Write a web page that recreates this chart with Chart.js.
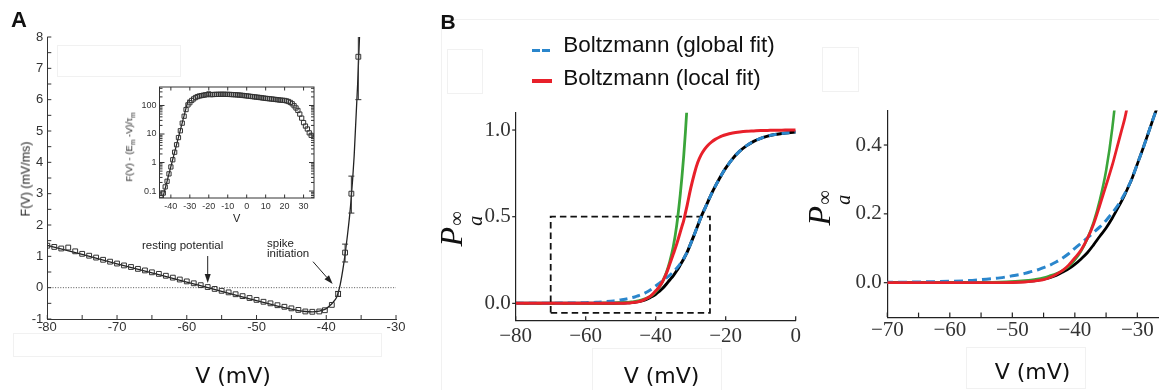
<!DOCTYPE html>
<html><head><meta charset="utf-8">
<script src="https://cdn.jsdelivr.net/npm/chart.js@4.4.1/dist/chart.umd.min.js"></script>
<style>
html,body{margin:0;padding:0;background:#fff;}
body{width:1159px;height:390px;overflow:hidden;position:relative;}
canvas{position:absolute;}
.t{position:absolute;white-space:nowrap;line-height:1;color:#111;}
.f{position:absolute;border:1px solid #f1f1f1;box-sizing:border-box;}
.s{position:absolute;}
</style></head>
<body>
<canvas id="cA"></canvas>
<canvas id="cI"></canvas>
<canvas id="cB1"></canvas>
<canvas id="cB2"></canvas>
<script>
// ================= DATA =================
// Panel A: F(V) measurements (open squares)
const aSquareV = [-80,-79,-78,-77,-76,-75,-74,-73,-72,-71,-70,-69,-68,-67,-66,-65,-64,-63,-62,-61,-60,-59,-58,-57,-56,-55,-54,-53,-52,-51,-50,-49,-48,-47,-46,-45,-44,-43,-42,-41,-40.2,-39.2,-38.3,-37.3,-36.4,-35.4];
const aSquareF = [1.34,1.30,1.25,1.28,1.16,1.08,1.02,0.96,0.89,0.83,0.77,0.71,0.66,0.60,0.55,0.49,0.44,0.38,0.32,0.26,0.20,0.14,0.08,0.02,-0.04,-0.10,-0.15,-0.21,-0.27,-0.33,-0.39,-0.45,-0.50,-0.56,-0.61,-0.66,-0.71,-0.76,-0.77,-0.76,-0.72,-0.55,-0.20,1.12,3.00,7.37];
// error bars
const aErrV  = [-38.3,-37.3,-36.4,-35.4];
const aErrLo = [-0.28,0.82,2.38,6.0];
const aErrHi = [-0.12,1.39,3.56,8.8];
// fitted curve
const aFitV = [-80,-75,-70,-65,-60,-55,-50,-46,-44,-43,-42,-41,-40.5,-40,-39.5,-39,-38.5,-38,-37.5,-37,-36.5,-36,-35.5,-35.2];
const aFitF = [1.35,1.06,0.76,0.47,0.18,-0.12,-0.41,-0.64,-0.73,-0.76,-0.77,-0.75,-0.72,-0.67,-0.58,-0.46,-0.30,0.10,0.75,1.60,2.65,4.20,6.50,8.20];
// zero reference line
const aZeroV = [-80,-30];
const aZeroF = [0,0];
// ticks
const aXTicks = [-80,-75,-70,-65,-60,-55,-50,-45,-40,-35,-30];
const aYTicks = [-1,-0.5,0,0.5,1,1.5,2,2.5,3,3.5,4,4.5,5,5.5,6,6.5,7,7.5,8];
// annotations
const aNoteText = ['resting potential','spike','initiation'];
const aNoteV = [-60.6,-48.5,-48.5];
const aNoteF = [1.233,1.297,0.978];
const aNoteAlign = ['center','left','left'];
const aArrowV1 = [-57,-41.9], aArrowF1 = [1.01,0.83];
const aArrowV2 = [-57,-39.08], aArrowF2 = [0.15,0.116];

// Inset: F(V) - (Em - V)/tau_m, log scale
const insetV = [-45,-44,-43,-42,-41,-40,-39,-38,-37,-36,-35,-34,-33,-32,-31,-30,-29,-28,-27,-26,-25,-24,-23,-22,-21,-20,-19,-18,-17,-16,-15,-14,-13,-12,-11,-10,-9,-8,-7,-6,-5,-4,-3,-2,-1,0,1,2,3,4,5,6,7,8,9,10,11,12,13,14,15,16,17,18,19,20,21,22,23,24,25,26,27,28,29,30,31,32,33,34];
const insetY = [0.06,0.085,0.14,0.22,0.4,0.7,1.25,2.3,4.2,7.5,13,24,42,72,105,125,150,170,190,205,215,222,228,235,240,255,240,242,244,245,246,247,247,247,246,245,244,242,240,238,235,232,229,225,221,217,213,209,205,201,197,194,190,186,182,178,175,172,169,166,163,160,157,154,152,150,145,138,128,115,98,82,67,50,36,25,19,15,11,9];
const insetFitV = [-44.3,-30.8];
const insetFitY = [0.057,165];
const insetXTicks = [-40,-30,-20,-10,0,10,20,30];
const insetYTicks = [0.1,1,10,100];
const insetYMinor = [0.06,0.07,0.08,0.09,0.2,0.3,0.4,0.5,0.6,0.7,0.8,0.9,2,3,4,5,6,7,8,9,20,30,40,50,60,70,80,90,200,300,400];

// Panel B: activation curves
const bV     = [-80,-75,-70,-65,-60,-57,-55,-52,-50,-48,-47,-46,-45,-44,-43,-42,-41,-40,-39,-38,-37,-36,-35,-34,-33,-32.5,-32,-31.5,-31,-30,-29,-28,-27,-26,-25,-24,-23,-22,-21,-20,-18,-16,-14,-12,-10,-8,-6,-4,-2,0];
const bBlack = [0,0,0,0,0.0001,0.0002,0.0004,0.0009,0.0017,0.0033,0.0048,0.007,0.010,0.0144,0.0207,0.030,0.040,0.053,0.069,0.087,0.110,0.135,0.159,0.188,0.221,0.238,0.256,0.276,0.296,0.345,0.395,0.448,0.50,0.545,0.59,0.635,0.675,0.712,0.748,0.78,0.835,0.878,0.91,0.935,0.952,0.965,0.974,0.98,0.985,0.988];
const bBlue  = [0.0002,0.0005,0.001,0.002,0.004,0.006,0.009,0.014,0.02,0.027,0.032,0.037,0.044,0.051,0.06,0.071,0.084,0.1,0.115,0.13,0.146,0.162,0.181,0.203,0.228,0.243,0.259,0.277,0.297,0.345,0.395,0.448,0.50,0.545,0.59,0.635,0.675,0.712,0.748,0.78,0.835,0.878,0.91,0.935,0.952,0.965,0.974,0.98,0.985,0.988];
const bRed   = [0,0,0,0,0,0,0.0001,0.0003,0.0005,0.002,0.0035,0.006,0.009,0.015,0.024,0.035,0.051,0.072,0.095,0.128,0.17,0.225,0.283,0.342,0.41,0.444,0.478,0.522,0.567,0.663,0.745,0.812,0.858,0.89,0.914,0.932,0.946,0.957,0.966,0.973,0.983,0.989,0.993,0.995,0.997,0.998,0.999,0.999,1.0,1.0];
const bGreen = [0,0,0,0,0.0002,0.0005,0.0009,0.002,0.0035,0.006,0.0078,0.0105,0.0145,0.02,0.026,0.035,0.047,0.066,0.092,0.128,0.175,0.24,0.325,0.45,0.625,0.73,0.85,0.99,1.15,1.5,null,null,null,null,null,null,null,null,null,null,null,null,null,null,null,null,null,null,null,null];
const bBoxV = [-70,-24.5,-24.5,-70,-70];
const bBoxP = [-0.055,-0.055,0.5,0.5,-0.055];
const b1XTicks = [-80,-60,-40,-20,0];
const b1YTicks = [0,0.5,1.0];
const b2XTicks = [-70,-65,-60,-55,-50,-45,-40,-35,-30,-25];
const b2YTicks = [0,0.2,0.4];

// ================= HELPERS =================
const pts = (xs, ys) => xs.map((x, i) => ({x: x, y: ys[i]}));
const minus = v => (v < 0 ? '\u2212' : '') + Math.abs(v);

const decor = {
  id: 'decor',
  afterDatasetsDraw(chart, args, o) {
    const ctx = chart.ctx, ca = chart.chartArea, S = chart.scales;
    ctx.save();
    ctx.strokeStyle = o.color || '#333';
    ctx.lineWidth = o.lw || 1;
    for (const t of (o.ticks || [])) {
      const sc = S[t.axis];
      for (const v of t.values) {
        const p = sc.getPixelForValue(v);
        ctx.beginPath();
        if (t.axis === 'x') {
          const y0 = t.side === 'top' ? ca.top : ca.bottom;
          const d = (t.side === 'top' ? 1 : -1) * (t.inward ? 1 : -1) * t.len;
          ctx.moveTo(p, y0); ctx.lineTo(p, y0 + d);
        } else {
          const x0 = t.side === 'right' ? ca.right : ca.left;
          const d = (t.side === 'right' ? -1 : 1) * (t.inward ? 1 : -1) * t.len;
          ctx.moveTo(x0, p); ctx.lineTo(x0 + d, p);
        }
        ctx.stroke();
      }
    }
    if (o.box) ctx.strokeRect(ca.left, ca.top, ca.right - ca.left, ca.bottom - ca.top);
    if (o.err) {
      const e = o.err;
      ctx.strokeStyle = e.color;
      e.x.forEach((v, i) => {
        const px = S.x.getPixelForValue(v);
        const lo = S.y.getPixelForValue(e.lo[i]);
        const hi = S.y.getPixelForValue(e.hi[i]);
        ctx.beginPath();
        ctx.moveTo(px, lo); ctx.lineTo(px, Math.max(hi, ca.top));
        ctx.moveTo(px - e.cap, lo); ctx.lineTo(px + e.cap, lo);
        if (hi >= ca.top) { ctx.moveTo(px - e.cap, hi); ctx.lineTo(px + e.cap, hi); }
        ctx.stroke();
      });
    }
    if (o.notes) {
      const n = o.notes;
      ctx.font = n.font; ctx.fillStyle = n.color; ctx.textBaseline = 'alphabetic';
      n.text.forEach((s, i) => {
        ctx.textAlign = n.align[i];
        ctx.fillText(s, S.x.getPixelForValue(n.x[i]), S.y.getPixelForValue(n.y[i]));
      });
      ctx.strokeStyle = n.color; ctx.fillStyle = n.color; ctx.lineWidth = 1;
      n.ax1.forEach((_, i) => {
        const x1 = S.x.getPixelForValue(n.ax1[i]), y1 = S.y.getPixelForValue(n.ay1[i]);
        const x2 = S.x.getPixelForValue(n.ax2[i]), y2 = S.y.getPixelForValue(n.ay2[i]);
        const ang = Math.atan2(y2 - y1, x2 - x1), hl = 9, hw = 3;
        const bx = x2 - hl * Math.cos(ang), by = y2 - hl * Math.sin(ang);
        ctx.beginPath(); ctx.moveTo(x1, y1); ctx.lineTo(bx, by); ctx.stroke();
        ctx.beginPath(); ctx.moveTo(x2, y2);
        ctx.lineTo(bx + hw * Math.sin(ang), by - hw * Math.cos(ang));
        ctx.lineTo(bx - hw * Math.sin(ang), by + hw * Math.cos(ang));
        ctx.closePath(); ctx.fill();
      });
    }
    ctx.restore();
  }
};
Chart.register(decor);

function axis(o) {
  return {
    type: o.type || 'linear', min: o.min, max: o.max,
    grid: {display: false, drawTicks: false},
    border: {display: o.border !== false, color: o.color || '#333', width: o.bw || 1},
    ticks: {autoSkip: false, maxRotation: 0, minRotation: 0, padding: o.pad, color: o.tcolor || '#333',
            font: {family: o.family, size: o.size}, callback: o.cb},
    afterBuildTicks: s => { s.ticks = o.ticks.map(v => ({value: v})); },
    afterFit: s => {
      if (o.isX) s.height = o.fit; else s.width = o.fit;
      s.paddingLeft = 0; s.paddingRight = 0; s.paddingTop = 0; s.paddingBottom = 0;
    }
  };
}

function make(id, b, scales, datasets, decorOpt) {
  const c = document.getElementById(id);
  c.width = b.cw; c.height = b.ch;
  c.style.left = b.cx + 'px'; c.style.top = b.cy + 'px';
  c.style.width = b.cw + 'px'; c.style.height = b.ch + 'px';
  return new Chart(c, {
    type: 'line',
    data: {datasets: datasets},
    options: {
      responsive: false, animation: false, events: [],
      layout: {padding: {left: b.L - b.cx - b.wy, top: b.T - b.cy, right: b.cx + b.cw - b.R, bottom: b.cy + b.ch - b.B - b.hx}},
      plugins: {legend: {display: false}, tooltip: {enabled: false}, decor: decorOpt},
      scales: scales,
      elements: {line: {tension: 0}}
    }
  });
}

function txt(html, x, base, size, family, opts) {
  opts = opts || {};
  const d = document.createElement('div');
  d.className = 't'; d.innerHTML = html;
  d.style.fontSize = size + 'px'; d.style.fontFamily = family;
  if (opts.weight) d.style.fontWeight = opts.weight;
  if (opts.color) d.style.color = opts.color;
  d.style.left = x + 'px'; d.style.top = (base - 0.845 * size) + 'px';
  const tx = opts.align === 'center' ? '-50%' : (opts.align === 'right' ? '-100%' : '0');
  d.style.transform = 'translateX(' + tx + ')';
  document.body.appendChild(d);
}
function vtxt(html, cx, cy, size, family, opts) {
  opts = opts || {};
  const d = document.createElement('div');
  d.className = 't'; d.innerHTML = html;
  d.style.fontSize = size + 'px'; d.style.fontFamily = family;
  if (opts.color) d.style.color = opts.color;
  d.style.left = cx + 'px'; d.style.top = cy + 'px';
  d.style.transform = 'translate(-50%,-50%) rotate(-90deg)';
  document.body.appendChild(d);
}
function faint(x, y, w, h) {
  const d = document.createElement('div');
  d.className = 'f';
  d.style.left = x + 'px'; d.style.top = y + 'px'; d.style.width = w + 'px'; d.style.height = h + 'px';
  document.body.appendChild(d);
}
function swatch(x, y, w, h, color) {
  const d = document.createElement('div');
  d.className = 's';
  d.style.cssText += 'left:' + x + 'px;top:' + y + 'px;width:' + w + 'px;height:' + h + 'px;background:' + color + ';';
  document.body.appendChild(d);
}

// faint artefact boxes
faint(56.7, 45, 124, 32); faint(13, 333, 369, 24);
faint(447, 49, 36, 45); faint(822, 47, 37, 45);
faint(592, 348, 130, 44); faint(966, 347, 120, 42);
faint(440.5, 19, 760, 400);

const SANS = "'Liberation Sans', Arial, sans-serif";
const SERIF = "'Liberation Serif', 'Times New Roman', serif";
const DJ = "'DejaVu Sans', sans-serif";
const BLUE = '#2a86cc', RED = '#e8202a', GREEN = '#3aa53a';

// ================= PANEL A (main) =================
make('cA', {cx: 0, cy: 0, cw: 420, ch: 390, L: 47.3, T: 37, R: 396, B: 319, wy: 45, hx: 30}, {
  x: axis({isX: true, min: -80, max: -30, ticks: aXTicks, pad: 1, family: SANS, size: 13, fit: 30,
           cb: v => (v % 10 === 0 ? String(v) : '')}),
  y: axis({min: -1, max: 8, ticks: aYTicks, pad: 4, family: SANS, size: 13, fit: 45,
           cb: v => (Number.isInteger(v) ? String(v) : '')})
}, [
  {data: pts(aSquareV, aSquareF), showLine: false, pointStyle: 'rect', pointRadius: 3.4, pointBorderWidth: 1,
   pointBorderColor: '#333', pointBackgroundColor: 'rgba(255,255,255,0)'},
  {data: pts(aFitV, aFitF), borderColor: '#222', borderWidth: 1.3, pointRadius: 0, cubicInterpolationMode: 'monotone'},
  {data: pts(aZeroV, aZeroF), borderColor: '#555', borderWidth: 1, borderDash: [1, 1.6], pointRadius: 0}
], {
  color: '#333',
  ticks: [{axis: 'x', values: aXTicks, side: 'bottom', inward: true, len: 4},
          {axis: 'y', values: aYTicks, side: 'left', inward: true, len: 4}],
  err: {x: aErrV, lo: aErrLo, hi: aErrHi, cap: 3, color: '#333'},
  notes: {font: '11.5px ' + SANS, color: '#222', text: aNoteText, x: aNoteV, y: aNoteF, align: aNoteAlign,
          ax1: aArrowV1, ay1: aArrowF1, ax2: aArrowV2, ay2: aArrowF2}
});

// ================= PANEL A (inset) =================
make('cI', {cx: 110, cy: 78, cw: 215, ch: 150, L: 159.5, T: 87, R: 314, B: 198, wy: 30, hx: 20}, {
  x: axis({isX: true, min: -46, max: 35.5, ticks: insetXTicks, pad: 3, family: SANS, size: 9, fit: 20,
           border: false, cb: v => String(v)}),
  y: axis({type: 'logarithmic', min: 0.057, max: 445, ticks: insetYTicks, pad: 3, family: SANS, size: 9, fit: 30,
           border: false, cb: v => String(v)})
}, [
  {data: pts(insetV, insetY), showLine: false, pointStyle: 'rect', pointRadius: 3, pointBorderWidth: 1,
   pointBorderColor: '#333', pointBackgroundColor: 'rgba(255,255,255,0)'},
  {data: pts(insetFitV, insetFitY), borderColor: '#222', borderWidth: 1.2, pointRadius: 0}
], {
  color: '#333', box: true,
  ticks: [{axis: 'x', values: insetXTicks, side: 'bottom', inward: true, len: 3.5},
          {axis: 'x', values: insetXTicks, side: 'top', inward: true, len: 3.5},
          {axis: 'y', values: insetYTicks, side: 'left', inward: true, len: 5},
          {axis: 'y', values: insetYTicks, side: 'right', inward: true, len: 5},
          {axis: 'y', values: insetYMinor, side: 'left', inward: true, len: 3},
          {axis: 'y', values: insetYMinor, side: 'right', inward: true, len: 3}]
});

// ================= PANEL B (left) =================
make('cB1', {cx: 440, cy: 100, cw: 370, ch: 290, L: 515.7, T: 112.7, R: 795.7, B: 320.7, wy: 60, hx: 30}, {
  x: axis({isX: true, min: -80, max: 0, ticks: b1XTicks, pad: 3, family: SERIF, size: 21, fit: 30,
           color: '#222', bw: 1.2, cb: minus}),
  y: axis({min: -0.1, max: 1.1, ticks: b1YTicks, pad: 5, family: SERIF, size: 21, fit: 60,
           color: '#222', bw: 1.2, cb: v => v.toFixed(1)})
}, [
  {data: pts(bV, bRed), borderColor: RED, borderWidth: 3, pointRadius: 0, cubicInterpolationMode: 'monotone'},
  {data: pts(bV, bBlue), borderColor: BLUE, borderWidth: 3, borderDash: [8, 5], pointRadius: 0, cubicInterpolationMode: 'monotone'},
  {data: pts(bV, bGreen), borderColor: GREEN, borderWidth: 2.8, pointRadius: 0, cubicInterpolationMode: 'monotone', spanGaps: false},
  {data: pts(bV, bBlack), borderColor: '#000', borderWidth: 3, pointRadius: 0, cubicInterpolationMode: 'monotone'},
  {data: pts(bBoxV, bBoxP), borderColor: '#111', borderWidth: 1.8, borderDash: [6.5, 4], pointRadius: 0}
], {
  color: '#222', lw: 1.2,
  ticks: [{axis: 'x', values: b1XTicks, side: 'bottom', inward: true, len: 4.5},
          {axis: 'y', values: b1YTicks, side: 'left', inward: false, len: 3.5}]
});

// ================= PANEL B (right, zoom) =================
make('cB2', {cx: 820, cy: 100, cw: 360, ch: 290, L: 887.3, T: 110.6, R: 1168.6, B: 317.1, wy: 55, hx: 30}, {
  x: axis({isX: true, min: -70, max: -25, ticks: b2XTicks, pad: 1, family: SERIF, size: 21, fit: 30,
           color: '#222', bw: 1.2, cb: v => (v % 10 === 0 ? minus(v) : '')}),
  y: axis({min: -0.1, max: 0.5, ticks: b2YTicks, pad: 5.5, family: SERIF, size: 21, fit: 55,
           color: '#222', bw: 1.2, cb: v => v.toFixed(1)})
}, [
  {data: pts(bV, bRed), borderColor: RED, borderWidth: 2.8, pointRadius: 0, cubicInterpolationMode: 'monotone'},
  {data: pts(bV, bBlue), borderColor: BLUE, borderWidth: 3, borderDash: [9, 5], pointRadius: 0, cubicInterpolationMode: 'monotone'},
  {data: pts(bV, bGreen), borderColor: GREEN, borderWidth: 2.6, pointRadius: 0, cubicInterpolationMode: 'monotone', spanGaps: false},
  {data: pts(bV, bBlack), borderColor: '#000', borderWidth: 2.8, pointRadius: 0, cubicInterpolationMode: 'monotone'}
], {
  color: '#222', lw: 1.2,
  ticks: [{axis: 'x', values: b2XTicks, side: 'bottom', inward: true, len: 4.5},
          {axis: 'y', values: b2YTicks, side: 'left', inward: false, len: 3.5}]
});

// ================= TEXT =================
txt('A', 11, 28, 22, SANS, {weight: 'bold'});
txt('B', 440.5, 28.3, 21, SANS, {weight: 'bold'});
vtxt('F(V) (mV/ms)', 25.8, 179, 12.5, SANS, {color: '#222'});
txt('V (mV)', 233, 383.3, 22, DJ, {align: 'center'});
txt('V', 236.7, 222, 11, SANS, {align: 'center', color: '#222'});
vtxt('F(V) - (E<sub style="font-size:0.7em;line-height:0">m</sub> -V)/\u03C4<sub style="font-size:0.7em;line-height:0">m</sub>', 128.5, 147, 9.5, SANS, {color: '#222'});
txt('V (mV)', 661.5, 383.3, 22, DJ, {align: 'center'});
txt('V (mV)', 1032.5, 380, 22, DJ, {align: 'center'});

// legend (panel B)
swatch(531.7, 48.5, 8.3, 3.2, BLUE);
swatch(541.7, 48.5, 8.3, 3.2, BLUE);
swatch(531.7, 79, 20, 3.6, RED);
txt('Boltzmann (global fit)', 563.3, 52.7, 22.5, SANS);
txt('Boltzmann (local fit)', 563.3, 86, 22.5, SANS);

// P_a^inf axis labels
const PL = '<span style="font-style:italic;font-size:32px">P</span><span style="display:inline-flex;flex-direction:column;font-size:20px;line-height:0.95;vertical-align:-0.05em;margin-left:1px"><span>\u221E</span><span style="font-style:italic">a</span></span>';
vtxt(PL, 460, 229, 32, SERIF, {color: '#111'});
vtxt(PL, 828, 208, 32, SERIF, {color: '#111'});
</script>
</body></html>
